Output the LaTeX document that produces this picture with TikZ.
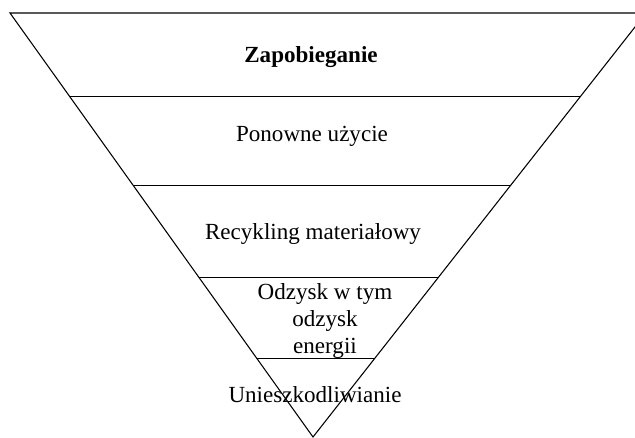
\documentclass[tikz,border=0pt]{standalone}
\usepackage{fontspec}
\setmainfont{Liberation Serif}
\usetikzlibrary{calc}

\begin{document}
\begin{tikzpicture}[x=0.75pt,y=-0.75pt,line width=0.8pt,
    level/.style={font=\fontsize{17.3}{20}\selectfont,inner sep=0pt}]

    \useasboundingbox (0,0) rectangle (635,438);
    \clip (0,0) rectangle (635,438);

    \coordinate (tl) at (10,13);
    \coordinate (tr) at (646,13);
    \coordinate (apex) at (313,437);

    % outer triangle
    \draw (tl) -- (tr) -- (apex) -- cycle;

    % dividing lines
    \foreach \t in {0.198,0.406,0.623,0.814}
        \draw ($(tl)!\t!(apex)$) -- ($(tr)!\t!(apex)$);

    % levels
    \node[level,anchor=base] (prevent) at (311,63) {\textbf{Zapobieganie}};
    \node[level,anchor=base] (reuse) at (312,142) {Ponowne użycie};
    \node[level,anchor=base] (recycle) at (313,240) {Recykling materiałowy};
    \node[level,align=center] (recover) at (325,321) {Odzysk w tym\\odzysk\\energii};
    \node[level,anchor=base] (dispose) at (315,402) {Unieszkodliwianie};

\end{tikzpicture}
\end{document}
